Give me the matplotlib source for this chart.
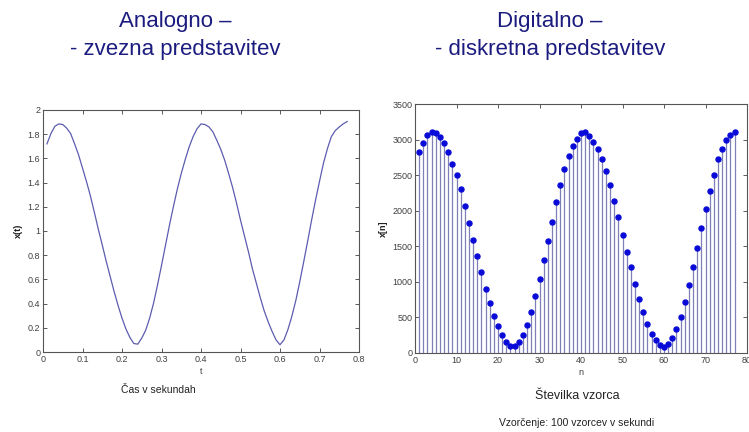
import numpy as np
import matplotlib
matplotlib.use('Agg')
import matplotlib.pyplot as plt
from matplotlib.ticker import FormatStrFormatter, MultipleLocator

plt.rcParams['font.family'] = ['Liberation Sans', 'DejaVu Sans']

# analog signal, read at t = 0.01 ... 0.77 s
t = np.arange(1, 78) / 100.0
x_t = [1.72, 1.805, 1.865, 1.885, 1.88, 1.85, 1.805, 1.72, 1.63, 1.52,
       1.41, 1.29, 1.155, 1.015, 0.885, 0.75, 0.625, 0.50, 0.385, 0.28,
       0.19, 0.12, 0.07, 0.065, 0.115, 0.18, 0.28, 0.405, 0.555, 0.715,
       0.88, 1.045, 1.20, 1.345, 1.475, 1.59, 1.695, 1.78, 1.845, 1.885,
       1.88, 1.86, 1.82, 1.75, 1.675, 1.585, 1.475, 1.36, 1.23, 1.09,
       0.96, 0.83, 0.69, 0.57, 0.45, 0.34, 0.25, 0.17, 0.10, 0.06,
       0.10, 0.185, 0.295, 0.425, 0.58, 0.745, 0.915, 1.09, 1.255, 1.41,
       1.56, 1.68, 1.78, 1.83, 1.86, 1.885, 1.905]

# digital samples, n = 1 ... 77
n = np.arange(1, 78)
x_n = [2825, 2955, 3060, 3105, 3095, 3040, 2955, 2832, 2660, 2496,
       2300, 2065, 1830, 1595, 1360, 1136, 905, 704, 516, 376,
       251, 152, 103, 103, 150, 253, 394, 572, 797, 1040,
       1302, 1570, 1846, 2118, 2357, 2586, 2764, 2910, 3008, 3088,
       3104, 3055, 2971, 2867, 2727, 2554, 2357, 2132, 1907, 1663,
       1424, 1204, 970, 764, 572, 412, 272, 187, 112, 86,
       122, 211, 337, 501, 722, 956, 1209, 1476, 1757, 2024,
       2282, 2502, 2727, 2867, 3000, 3060, 3102]

title_color = '#1c1c80'
tick_color = '#404040'

fig = plt.figure(figsize=(7.49, 4.32), dpi=100)

def style_axes(ax):
    ax.tick_params(direction='in', length=3, width=0.6, labelsize=6.5,
                   colors=tick_color, top=True, right=True, pad=2)
    for s in ax.spines.values():
        s.set_color('#555555')
        s.set_linewidth(0.8)

# left: continuous
ax1 = fig.add_axes([43 / 749, 80 / 432, 316 / 749, 242 / 432])
ax1.plot(t, x_t, color='#5c5cb0', linewidth=0.9)
ax1.set_xlim(0, 0.8)
ax1.set_ylim(0, 2)
ax1.xaxis.set_major_locator(MultipleLocator(0.1))
ax1.yaxis.set_major_locator(MultipleLocator(0.2))
ax1.xaxis.set_major_formatter(FormatStrFormatter('%g'))
ax1.yaxis.set_major_formatter(FormatStrFormatter('%g'))
style_axes(ax1)
ax1.set_xlabel('t', fontsize=6.5, color=tick_color, labelpad=2)
ax1.set_ylabel('x(t)', fontsize=6.5, color='#202020', labelpad=3,
               fontweight='bold')

# right: discrete
ax2 = fig.add_axes([415 / 749, 79 / 432, 332 / 749, 249 / 432])
markers, stems, base = ax2.stem(n, x_n, basefmt=' ')
stems.set_color('#7f7fb8')
stems.set_linewidth(0.9)
markers.set_color('#0a0ad8')
markers.set_markersize(3.6)
ax2.set_xlim(0, 80)
ax2.set_ylim(0, 3500)
ax2.xaxis.set_major_locator(MultipleLocator(10))
ax2.yaxis.set_major_locator(MultipleLocator(500))
style_axes(ax2)
ax2.set_xlabel('n', fontsize=6.5, color=tick_color, labelpad=2)
ax2.set_ylabel('x[n]', fontsize=6.5, color='#202020', labelpad=3,
               fontweight='bold')

# titles
fig.text(175 / 749, 1 - 22 / 432, 'Analogno –', ha='center', va='center',
         fontsize=16, color=title_color)
fig.text(175 / 749, 1 - 49 / 432, '- zvezna predstavitev', ha='center',
         va='center', fontsize=16, color=title_color)
fig.text(550 / 749, 1 - 22 / 432, 'Digitalno –', ha='center', va='center',
         fontsize=16, color=title_color)
fig.text(550 / 749, 1 - 49 / 432, '- diskretna predstavitev', ha='center',
         va='center', fontsize=16, color=title_color)

# captions
fig.text(158 / 749, 1 - 390 / 432, 'Čas v sekundah', ha='center',
         va='center', fontsize=7.5, color='#222222')
fig.text(577 / 749, 1 - 396 / 432, 'Številka vzorca', ha='center',
         va='center', fontsize=9, color='#222222')
fig.text(577 / 749, 1 - 423 / 432, 'Vzorčenje: 100 vzorcev v sekundi',
         ha='center', va='center', fontsize=7.5, color='#222222')

fig.savefig('out.png', dpi=100)
